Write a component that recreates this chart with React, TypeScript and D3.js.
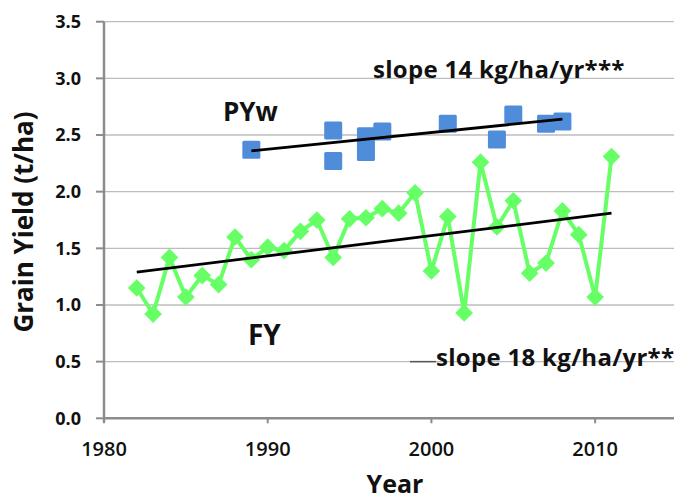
import React from "react";
import * as d3 from "d3";

const fyYears = [1982,1983,1984,1985,1986,1987,1988,1989,1990,1991,1992,1993,1994,1995,1996,1997,1998,1999,2000,2001,2002,2003,2004,2005,2006,2007,2008,2009,2010,2011];
const fyValues = [1.15,0.92,1.42,1.07,1.26,1.18,1.60,1.40,1.51,1.48,1.65,1.75,1.42,1.76,1.77,1.85,1.81,1.99,1.30,1.78,0.93,2.26,1.69,1.92,1.28,1.37,1.83,1.62,1.07,2.31];
const pywYears = [1989,1994,1994,1996,1996,1997,2001,2004,2005,2007,2008];
const pywValues = [2.37,2.54,2.27,2.49,2.35,2.53,2.60,2.46,2.68,2.60,2.62];
const fyTrend = [[1982,1.29],[2011,1.81]];
const pywTrend = [[1989,2.36],[2008,2.64]];
const yTicks = [0,0.5,1.0,1.5,2.0,2.5,3.0,3.5];
const xTicks = [1980,1990,2000,2010];

const W = 674, H = 502;
const font = "'Open Sans', sans-serif";

export default function App() {
  const x = d3.scaleLinear().domain([1980, 2015]).range([104, 677]);
  const y = d3.scaleLinear().domain([0, 3.5]).range([418.3, 21.7]);
  const line = d3.line<[number, number]>().x(d => x(d[0])).y(d => y(d[1]));
  const fyPts: [number, number][] = fyYears.map((yr, i) => [yr, fyValues[i]]);
  const diamond = d3.symbol().type(d3.symbolDiamond2 ?? d3.symbolDiamond).size(200)();
  const sq = 18;
  return (
    <svg width={W} height={H} style={{ position: "absolute", left: 0, top: 0, background: "#fff" }} fontFamily={font}>
      {yTicks.map(t => (
        <g key={t}>
          {t > 0 && <line x1={104} x2={W} y1={y(t)} y2={y(t)} stroke="#bcbcbc" strokeWidth={1.3} />}
          <line x1={96} x2={104} y1={y(t)} y2={y(t)} stroke="#8c8c8c" strokeWidth={2} />
          <text x={81} y={y(t)} dy="0.36em" textAnchor="end" fontSize={18} fontWeight={700} fill="#111">{t.toFixed(1)}</text>
        </g>
      ))}
      <line x1={104} x2={104} y1={y(3.5)} y2={y(0) + 4} stroke="#8c8c8c" strokeWidth={2.5} />
      <line x1={103} x2={W} y1={y(0)} y2={y(0)} stroke="#8c8c8c" strokeWidth={2.5} />
      {xTicks.map(t => (
        <g key={t}>
          <line x1={x(t)} x2={x(t)} y1={y(0)} y2={y(0) + 5} stroke="#8c8c8c" strokeWidth={2} />
          <text x={x(t)} y={456} textAnchor="middle" fontSize={20} fontWeight={600} fill="#111">{t}</text>
        </g>
      ))}
      <path d={line(fyPts) ?? ""} fill="none" stroke="#66ff66" strokeWidth={4} strokeLinejoin="round" />
      {fyPts.map((p, i) => (
        <path key={i} d={diamond ?? ""} transform={`translate(${x(p[0])},${y(p[1])})`} fill="#66ff66" />
      ))}
      {pywYears.map((yr, i) => (
        <rect key={i} x={x(yr) - sq / 2} y={y(pywValues[i]) - sq / 2} width={sq} height={sq} rx={1.5} fill="#4f8ddb" />
      ))}
      <path d={line(fyTrend as [number, number][]) ?? ""} stroke="#000" strokeWidth={2.8} fill="none" />
      <path d={line(pywTrend as [number, number][]) ?? ""} stroke="#000" strokeWidth={2.8} fill="none" />
      <text x={223} y={121} fontSize={26} fontWeight={700} fill="#111">PYw</text>
      <text x={248} y={345} fontSize={28} fontWeight={700} fill="#111">FY</text>
      <text x={373} y={78} fontSize={24} fontWeight={700} letterSpacing={0.3} fill="#111">slope 14 kg/ha/yr***</text>
      <line x1={410} x2={436} y1={y(0.5)} y2={y(0.5)} stroke="#555" strokeWidth={1.5} />
      <text x={436} y={366} fontSize={24} fontWeight={700} letterSpacing={0.3} fill="#111">slope 18 kg/ha/yr**</text>
      <text transform="translate(33,222) rotate(-90)" textAnchor="middle" fontSize={26} fontWeight={700} fill="#111">Grain Yield (t/ha)</text>
      <text x={395} y={493} textAnchor="middle" fontSize={25} fontWeight={700} fill="#111">Year</text>
    </svg>
  );
}
